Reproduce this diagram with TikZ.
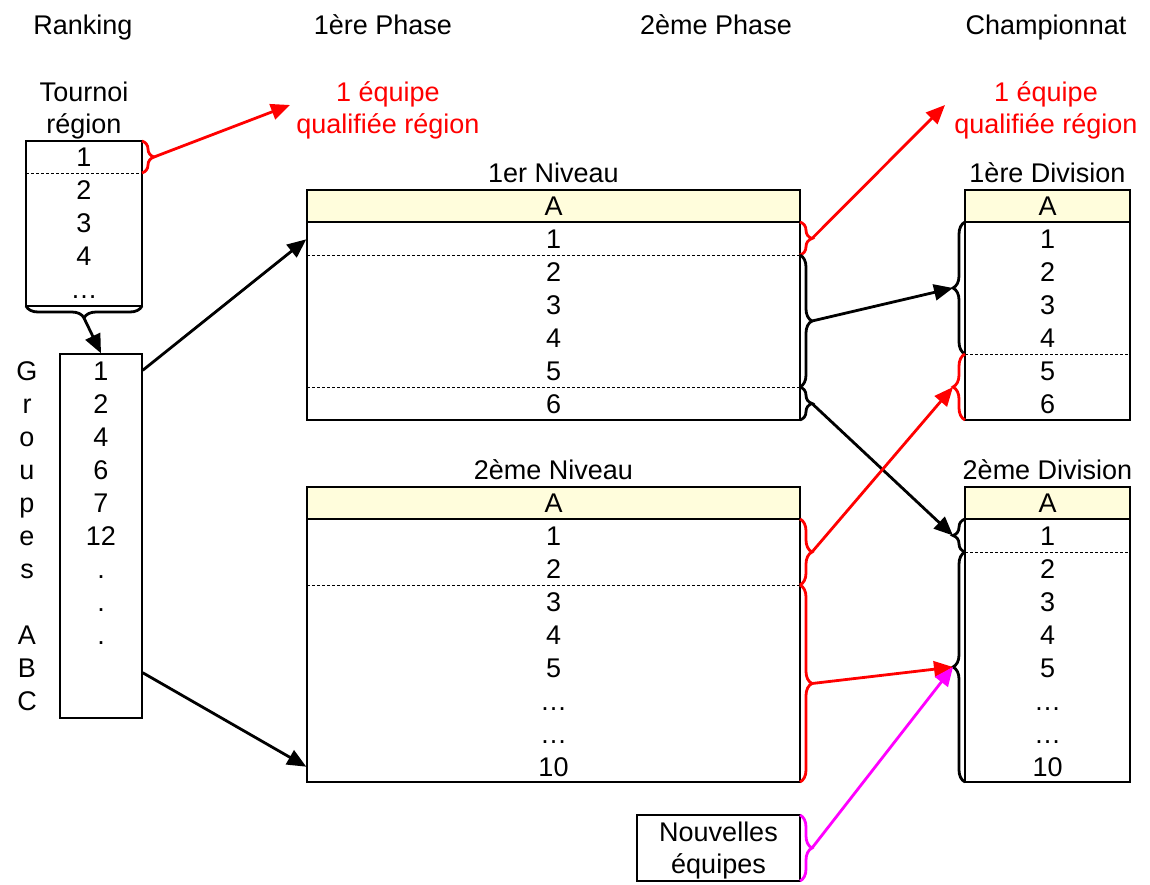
\documentclass[tikz,border=0pt]{standalone}
\usepackage{fontspec}
\setmainfont{Liberation Sans}
\usepackage{tikz}
\usetikzlibrary{arrows.meta,decorations.pathreplacing}
\definecolor{hdrfill}{HTML}{FFFDDC}
\definecolor{qred}{HTML}{FF0000}
\definecolor{qmag}{HTML}{FF00FF}

\begin{document}
\begin{tikzpicture}[x=1pt,y=-1pt,
  lbl/.style={font=\fontsize{27}{32}\selectfont, anchor=base, yshift=-9.7pt, inner sep=0pt},
  box/.style={draw=black, line width=1.4pt, inner sep=0pt},
  hdr/.style={box, fill=hdrfill},
  sep/.style={densely dashed, line width=0.9pt},
  brc/.style={decorate, decoration={brace, amplitude=12pt}, line width=2.8pt},
  arr/.style={-{Triangle[length=19pt,width=16pt]}, line width=2.8pt}]
\useasboundingbox (0,0) rectangle (1150,884);

\foreach \x/\t [count=\k] in {83/Ranking,383/1ère Phase,716/2ème Phase,1046/Championnat}
  \node[lbl] (col\k) at (\x,25) {\t};

\node[box, minimum width=116pt, minimum height=165pt] (tour) at (84,223.5) {};
\node[lbl, align=center] (tourt) at (84,124) {Tournoi\\région};
\foreach \y/\t [count=\k] in {157/1,190/2,223/3,256/4,289/{\dots}}
  \node[lbl] (tourr\k) at (84,\y) {\t};
\draw[sep] (26,173) -- (142,173);

\node[box, minimum width=82pt, minimum height=364pt] (grp) at (101,536) {};
\foreach \y/\t [count=\k] in {371/1,404/2,437/4,470/6,503/7,536/12,569/.,602/.,635/.}
  \node[lbl] (grpn\k) at (101,\y) {\t};
\foreach \y/\t [count=\k] in {371/G,404/r,437/o,470/u,503/p,536/e,569/s,635/A,668/B,701/C}
  \node[lbl] (grpl\k) at (27,\y) {\t};

\node[box, minimum width=493pt, minimum height=230pt] (niv1) at (553.5,305) {};
\node[hdr, minimum width=493pt, minimum height=32pt] (niv1h) at (553.5,206) {};
\node[lbl] (niv1t) at (553.5,173) {1er Niveau};
\node[lbl] (niv1a) at (553.5,206) {A};
\foreach \y/\t [count=\k] in {239/1,272/2,305/3,338/4,371/5,404/6}
  \node[lbl] (niv1r\k) at (553.5,\y) {\t};
\draw[sep] (307,255.5) -- (800,255.5);
\draw[sep] (307,387.5) -- (800,387.5);

\node[box, minimum width=493pt, minimum height=295pt] (niv2) at (553.5,634.5) {};
\node[hdr, minimum width=493pt, minimum height=32pt] (niv2h) at (553.5,503) {};
\node[lbl] (niv2t) at (553.5,470) {2ème Niveau};
\node[lbl] (niv2a) at (553.5,503) {A};
\foreach \y/\t [count=\k] in {536/1,569/2,602/3,635/4,668/5,701/{\dots},734/{\dots},767/10}
  \node[lbl] (niv2r\k) at (553.5,\y) {\t};
\draw[sep] (307,585.5) -- (800,585.5);

\node[box, minimum width=165pt, minimum height=230pt] (div1) at (1047.5,305) {};
\node[hdr, minimum width=165pt, minimum height=32pt] (div1h) at (1047.5,206) {};
\node[lbl] (div1t) at (1047.5,173) {1ère Division};
\node[lbl] (div1a) at (1047.5,206) {A};
\foreach \y/\t [count=\k] in {239/1,272/2,305/3,338/4,371/5,404/6}
  \node[lbl] (div1r\k) at (1047.5,\y) {\t};
\draw[sep] (965,354.5) -- (1130,354.5);

\node[box, minimum width=165pt, minimum height=295pt] (div2) at (1047.5,634.5) {};
\node[hdr, minimum width=165pt, minimum height=32pt] (div2h) at (1047.5,503) {};
\node[lbl] (div2t) at (1047.5,470) {2ème Division};
\node[lbl] (div2a) at (1047.5,503) {A};
\foreach \y/\t [count=\k] in {536/1,569/2,602/3,635/4,668/5,701/{\dots},734/{\dots},767/10}
  \node[lbl] (div2r\k) at (1047.5,\y) {\t};
\draw[sep] (965,552.5) -- (1130,552.5);

\node[box, minimum width=163pt, minimum height=66pt] (nouv) at (718.5,848) {};
\node[lbl] (nouv1) at (718.5,832) {Nouvelles};
\node[lbl] (nouv2) at (718.5,864) {équipes};

\node[lbl, text=qred, align=center] (qual1) at (388,124) {1 équipe\\qualifiée région};
\node[lbl, text=qred, align=center] (qual2) at (1046,124) {1 équipe\\qualifiée région};

\draw[brc, qred] (142,141) -- (142,173);
\draw[brc] (142,306) -- (26,306);
\draw[brc, qred] (800,222) -- (800,255);
\draw[brc] (800,255) -- (800,387);
\draw[brc] (800,387) -- (800,420);
\draw[brc, qred] (800,519) -- (800,585);
\draw[brc, qred] (800,585) -- (800,782);
\draw[brc, qmag] (800,815) -- (800,881);
\draw[brc] (965,354) -- (965,222);
\draw[brc, qred] (965,420) -- (965,354);
\draw[brc] (965,552) -- (965,519);
\draw[brc] (965,782) -- (965,552);

\coordinate (tq) at (154,157);
\coordinate (tb) at (84,318);
\coordinate (q1) at (290,105);
\coordinate (q2) at (945,105);
\coordinate (n1a) at (812,238.5);
\coordinate (n1b) at (812,321);
\coordinate (n1c) at (812,403.5);
\coordinate (n2a) at (812,552);
\coordinate (n2b) at (812,683.5);
\coordinate (nv) at (812,848);
\coordinate (d1a) at (953,288);
\coordinate (d1b) at (953,387);
\coordinate (d2a) at (953,535.5);
\coordinate (d2b) at (953,667);

\draw[arr, qred] (tq) -- (q1);
\draw[arr] (tb) -- (grp.north);
\draw[arr] ([yshift=-17pt]grp.north east) -- ([yshift=-50pt]niv1.north west);
\draw[arr] ([yshift=46pt]grp.south east) -- ([yshift=16pt]niv2.south west);
\draw[arr, qred] (n1a) -- (q2);
\draw[arr] (n1b) -- (d1a);
\draw[arr] (n1c) -- (d2a);
\draw[arr, qred] (n2a) -- (d1b);
\draw[arr, qred] (n2b) -- (d2b);
\draw[arr, qmag] (nv) -- (d2b);
\end{tikzpicture}
\end{document}
